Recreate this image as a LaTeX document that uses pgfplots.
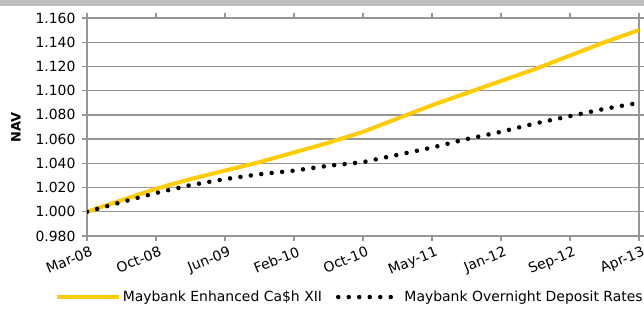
\documentclass[border=0pt]{standalone}
\usepackage{fontspec}
\setmainfont{DejaVu Sans}
\usepackage{pgfplots}
\pgfplotsset{compat=1.18}
\definecolor{ylw}{RGB}{255,204,0}
\definecolor{gridg}{RGB}{150,150,150}
\definecolor{banner}{RGB}{190,190,190}
\begin{document}
\begin{tikzpicture}
\path[use as bounding box] (0bp,0bp) rectangle (644bp,312bp);
\fill[banner] (0bp,306bp) rectangle (644bp,312bp);
\begin{axis}[
  at={(87bp,76bp)}, anchor=south west,
  scale only axis, width=552bp, height=218bp,
  xmin=0, xmax=8, ymin=0.98, ymax=1.16,
  xtick={0,1,2,3,4,5,6,7,8},
  xticklabels={Mar-08,Oct-08,Jun-09,Feb-10,Oct-10,May-11,Jan-12,Sep-12,Apr-13},
  ytick={0.98,1.00,1.02,1.04,1.06,1.08,1.10,1.12,1.14,1.16},
  ymajorgrids, major grid style={gridg, line width=1.4bp},
  axis line style={gridg, line width=1.4bp},
  tick style={gridg, line width=1.4bp},
  tick align=outside, major tick length=5bp,
  font=\fontsize{14}{16}\selectfont,
  yticklabel style={xshift=-3bp, /pgf/number format/.cd, fixed, fixed zerofill, precision=3, assume math mode=true},
  xticklabel style={rotate=22, anchor=north east, xshift=4bp, yshift=-2bp},
  ylabel={NAV}, ylabel style={font=\fontsize{13}{15}\selectfont\bfseries, yshift=8bp},
  legend style={at={(axis description cs:0.476,-0.28)}, anchor=center, draw=none, fill=none,
    legend columns=2, font=\fontsize{14}{16}\selectfont,
    /tikz/every even column/.append style={column sep=12bp}},
  legend image code/.code={\draw[#1] (0bp,0bp) -- (62bp,0bp);},
]
\addplot[ylw, line width=4bp] coordinates {
 (0,1.000) (0.5,1.0095) (1,1.019) (1.5,1.027) (2,1.034) (2.5,1.041) (3,1.049)
 (3.5,1.057) (4,1.066) (4.5,1.077) (5,1.088) (5.5,1.098) (6,1.108) (6.5,1.118)
 (7,1.129) (7.5,1.140) (8,1.150)};
\addlegendentry{Maybank Enhanced Ca\$h XII}
\addplot[black, line width=4.5bp, dash pattern=on 0bp off 10.5bp, line cap=round] coordinates {
 (0,1.000) (0.5,1.008) (1,1.0155) (1.5,1.022) (2,1.027) (2.5,1.031) (3,1.034)
 (3.5,1.038) (4,1.041) (4.5,1.047) (5,1.053) (5.5,1.060) (6,1.066) (6.5,1.073)
 (7,1.079) (7.5,1.085) (8,1.090)};
\addlegendentry{Maybank Overnight Deposit Rates}
\end{axis}
\end{tikzpicture}
\end{document}
